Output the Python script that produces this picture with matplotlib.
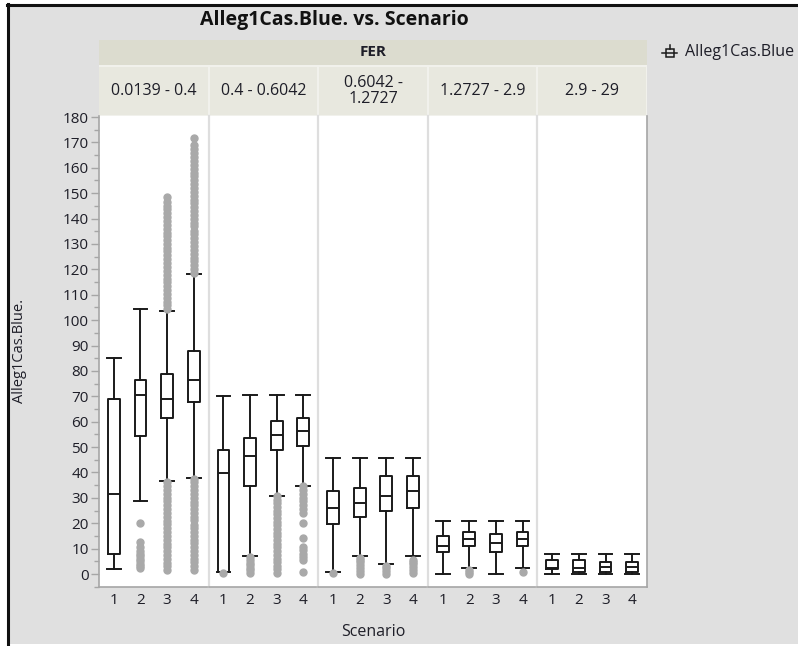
import matplotlib
matplotlib.use("Agg")
import matplotlib.pyplot as plt
from matplotlib.patches import Rectangle
from matplotlib.lines import Line2D
from matplotlib.ticker import MultipleLocator

plt.rcParams['font.family'] = ['Open Sans', 'DejaVu Sans']

# ---------------- data ----------------
fer_bins = ["0.0139 - 0.4", "0.4 - 0.6042", "0.6042 -\n1.2727", "1.2727 - 2.9", "2.9 - 29"]
scenarios = ["1", "2", "3", "4"]

# box statistics per FER bin, one value per scenario
whislo = [[2.0, 28.7, 36.6, 37.7],
          [0.9, 7.2, 30.8, 34.8],
          [0.7, 7.2, 3.8, 7.1],
          [0.0, 2.2, 0.0, 2.2],
          [0.0, 0.0, 0.0, 0.0]]
q1 = [[7.7, 54.2, 61.4, 67.6],
      [0.9, 34.6, 48.7, 50.3],
      [19.7, 22.6, 24.7, 25.9],
      [8.5, 10.9, 8.5, 10.9],
      [2.0, 0.7, 0.9, 0.9]]
med = [[31.5, 70.5, 68.8, 76.6],
       [39.9, 46.5, 54.7, 56.4],
       [26.1, 27.8, 30.8, 32.7],
       [11.2, 13.8, 12.1, 13.8],
       [2.5, 2.3, 2.8, 2.6]]
q3 = [[68.8, 76.4, 78.7, 87.8],
      [48.7, 53.7, 60.4, 61.6],
      [32.7, 33.7, 38.7, 38.7],
      [15.0, 16.4, 15.9, 16.4],
      [5.5, 5.5, 4.8, 4.6]]
whishi = [[85.0, 104.3, 103.7, 118.0],
          [70.0, 70.5, 70.5, 70.5],
          [45.9, 45.9, 45.9, 45.9],
          [20.9, 20.9, 20.9, 20.9],
          [7.7, 7.7, 7.7, 7.7]]

# outlying observations per FER bin and scenario
outliers = [
    [[],
     [20.0, 12.7, 10.5, 9.0, 8.0, 7.0, 6.0, 5.0, 4.0, 3.0, 2.2],
     [104.4, 105.8, 107.3, 108.9, 110.2, 111.8, 113.4, 114.9, 116.3, 117.8, 119.4, 121.0,
      122.5, 123.9, 125.6, 127.1, 128.4, 130.0, 131.6, 133.1, 134.5, 136.0, 137.6, 139.2,
      140.5, 142.1, 143.6, 145.0, 146.6, 148.4,
      1.6, 3.0, 4.5, 6.1, 7.5, 9.0, 10.6, 12.0, 13.5, 15.1, 16.5, 18.0, 19.6, 21.0, 22.5,
      24.1, 25.5, 27.0, 28.6, 30.0, 31.5, 33.1, 34.6, 36.3],
     [118.6, 120.1, 121.7, 123.2, 124.6, 126.2, 127.7, 129.3, 130.8, 132.2, 133.8, 135.3,
      136.9, 138.4, 139.8, 141.4, 142.9, 144.5, 146.0, 147.4, 149.0, 150.5, 152.1, 153.6,
      155.0, 156.6, 158.1, 159.7, 161.2, 162.6, 164.2, 165.7, 167.3, 168.8, 171.7,
      1.6, 3.1, 4.6, 6.0, 7.6, 9.1, 10.5, 12.1, 13.6, 15.0, 16.6, 18.1, 19.5, 21.1, 22.6,
      24.0, 25.6, 27.1, 28.5, 30.1, 31.6, 33.0, 34.6, 36.1, 37.6]],
    [[0.3],
     [0.4, 1.5, 2.5, 3.5, 4.5, 5.6, 6.6],
     [0.4, 1.8, 3.2, 4.7, 6.1, 7.6, 9.0, 10.5, 11.9, 13.4, 14.8, 16.3, 17.7, 19.2, 20.6,
      22.1, 23.5, 25.0, 26.4, 27.9, 29.3, 30.6],
     [34.6, 33.1, 31.6, 30.1, 28.6, 27.1, 25.6, 24.1, 20.0, 14.1, 10.8, 9.4, 8.0, 6.7,
      5.6, 0.9]],
    [[0.3],
     [0.2, 1.3, 2.4, 3.5, 4.6, 5.7, 6.5],
     [0.2, 1.3, 2.3, 3.3],
     [0.5, 1.6, 2.7, 3.8, 4.9, 5.5]],
    [[],
     [0.0, 0.8, 1.6],
     [],
     [0.9]],
    [[], [], [], []],
]

# ---------------- layout helpers ----------------
W, H = 798, 646


def fx(px):
    return px / W


def fy(py):
    return 1 - py / H


fig = plt.figure(figsize=(W / 100, H / 100), dpi=100)
fig.patch.set_facecolor("white")

# window background and frame
fig.patches.append(Rectangle((fx(9), fy(644)), fx(W - 9), (644 - 6) / H,
                             transform=fig.transFigure, facecolor="#e0e0e0",
                             edgecolor="none", zorder=-10))
fig.add_artist(Line2D([fx(7), 1], [fy(5), fy(5)], transform=fig.transFigure,
                      color="#111111", lw=2.2, zorder=-5))
fig.add_artist(Line2D([fx(8), fx(8)], [fy(4), fy(646)], transform=fig.transFigure,
                      color="#111111", lw=2.2, zorder=-5))

TEXT = "#1e1e28"
GRID_SEP = "#dedede"
AXIS_GRAY = "#a6a6a6"

plot_left, plot_right = 99, 647
plot_top, plot_bottom = 116, 587
panel_w = (plot_right - plot_left) / len(fer_bins)

# header band
fig.patches.append(Rectangle((fx(plot_left), fy(plot_top)), fx(plot_right - plot_left),
                             (plot_top - 40) / H, transform=fig.transFigure,
                             facecolor="#f1f1ec", edgecolor="none", zorder=-4))
fig.patches.append(Rectangle((fx(plot_left), fy(65)), fx(plot_right - plot_left),
                             25 / H, transform=fig.transFigure,
                             facecolor="#dcdccf", edgecolor="none", zorder=-3))
fig.text(fx((plot_left + plot_right) / 2), fy(52.5), "FER", ha="center", va="center",
         fontsize=11, fontweight="bold", color=TEXT)

for i, label in enumerate(fer_bins):
    x0 = plot_left + i * panel_w
    fig.patches.append(Rectangle((fx(x0 + (1 if i else 0)), fy(plot_top - 1)),
                                 fx(panel_w - (2 if i else 1)), (plot_top - 1 - 67) / H,
                                 transform=fig.transFigure, facecolor="#e8e8df",
                                 edgecolor="none", zorder=-3))
    fig.text(fx(x0 + panel_w / 2), fy(91), label, ha="center", va="center",
             fontsize=11.5, color=TEXT, linespacing=1.05)

    ax = fig.add_axes([fx(x0), fy(plot_bottom), fx(panel_w), (plot_bottom - plot_top) / H])
    ax.set_zorder(2)
    ax.set_facecolor("white")
    stats = []
    for j, s in enumerate(scenarios):
        stats.append(dict(label=s, whislo=whislo[i][j], q1=q1[i][j], med=med[i][j],
                          q3=q3[i][j], whishi=whishi[i][j], fliers=outliers[i][j]))
    line = dict(color="#1a1a1a", linewidth=1.4)
    ax.bxp(stats, positions=[1, 2, 3, 4], widths=0.44, capwidths=0.52,
           boxprops=line, whiskerprops=line, capprops=line,
           medianprops=dict(color="#1a1a1a", linewidth=1.4),
           flierprops=dict(marker="o", markerfacecolor="#a9a9a9",
                           markeredgecolor="#a9a9a9", markersize=5, linestyle="none"),
           showfliers=True)
    ax.set_xlim(0.44, 4.56)
    ax.set_ylim(-5.1, 180.4)
    ax.set_xticks([1, 2, 3, 4])
    ax.set_xticklabels(scenarios)
    ax.tick_params(axis="x", length=0, pad=4, labelsize=11, labelcolor=TEXT)
    ax.spines["top"].set_visible(False)
    ax.spines["bottom"].set_color(AXIS_GRAY)
    ax.spines["bottom"].set_linewidth(1.2)
    ax.spines["left"].set_color(GRID_SEP if i else AXIS_GRAY)
    ax.spines["left"].set_linewidth(1.6 if i else 1.2)
    if i == len(fer_bins) - 1:
        ax.spines["right"].set_color(AXIS_GRAY)
        ax.spines["right"].set_linewidth(1.2)
    else:
        ax.spines["right"].set_visible(False)
    if i == 0:
        ax.yaxis.set_major_locator(MultipleLocator(10))
        ax.yaxis.set_minor_locator(MultipleLocator(5))
        ax.tick_params(axis="y", which="major", length=6, width=1, color=AXIS_GRAY,
                       pad=1.5, labelsize=11, labelcolor=TEXT)
        ax.tick_params(axis="y", which="minor", length=3.5, width=1, color=AXIS_GRAY)
    else:
        ax.set_yticks([])
        ax.tick_params(axis="y", which="both", left=False, labelleft=False)

# titles and labels
fig.text(fx(334), fy(20), "Alleg1Cas.Blue. vs. Scenario", ha="center", va="center",
         fontsize=14, fontweight="bold", color="#111111")
fig.text(fx(20), fy(351), "Alleg1Cas.Blue.", rotation=90, ha="center", va="center",
         fontsize=10.5, color=TEXT)
fig.text(fx(373), fy(632), "Scenario", ha="center", va="center", fontsize=11.5,
         color=TEXT)

# legend entry: small horizontal box-plot glyph and the variable name
gx0, gx1, gy = 662, 677, 53
fig.add_artist(Rectangle((fx(665.5), fy(gy + 4)), fx(8), 8 / H, transform=fig.transFigure,
                         facecolor="none", edgecolor="#1a1a1a", lw=1.1))
fig.add_artist(Line2D([fx(gx0), fx(gx1)], [fy(gy), fy(gy)], transform=fig.transFigure,
                      color="#1a1a1a", lw=1.1))
fig.add_artist(Line2D([fx(669.5), fx(669.5)], [fy(gy - 4), fy(gy - 8)],
                      transform=fig.transFigure, color="#1a1a1a", lw=1.1))
fig.text(fx(685), fy(52.5), "Alleg1Cas.Blue", ha="left", va="center", fontsize=11.5,
         color=TEXT)

fig.savefig("out.png", dpi=100, facecolor=fig.get_facecolor())
